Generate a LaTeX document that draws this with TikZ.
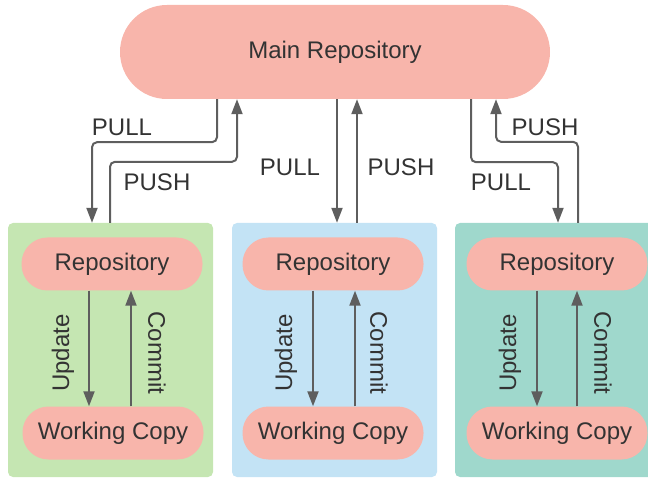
\documentclass[tikz,border=0pt]{standalone}
\usepackage{fontspec}
\setmainfont{Liberation Sans}
\usetikzlibrary{arrows.meta, positioning}
\definecolor{repopink}{HTML}{F8B5AB}
\definecolor{panelgreen}{HTML}{C5E6B2}
\definecolor{panelblue}{HTML}{C3E3F5}
\definecolor{panelteal}{HTML}{9FD8CC}
\definecolor{arrowgray}{HTML}{5E5E5E}
\definecolor{labelgray}{HTML}{333333}

\begin{document}
\begin{tikzpicture}[
    x=1pt, y=-1pt,
    every node/.style={font=\fontsize{24}{28}\selectfont, text=labelgray},
    mainrepo/.style={fill=repopink, rounded corners=47pt, minimum width=430pt, minimum height=94pt, inner sep=0pt},
    repo/.style={fill=repopink, rounded corners=26pt, minimum width=181pt, minimum height=53pt, inner sep=0pt},
    panel/.style={rounded corners=5pt, minimum width=205pt, minimum height=254pt, inner sep=0pt},
    flow/.style={draw=arrowgray, line width=2pt, rounded corners=5pt, -{Triangle[length=15pt, width=11pt]}}
]
\useasboundingbox (0,0) rectangle (648,478);

% main repository
\node[mainrepo] (main) at (335,52) {Main Repository};

% local panels
\node[panel, fill=panelgreen] (panelA) at (110.5,350) {};
\node[panel, fill=panelblue]  (panelB) at (334.5,350) {};
\node[panel, fill=panelteal]  (panelC) at (557.5,350) {};

% local repositories and working copies
\node[repo] (repoA) at (112,264) {Repository};
\node[repo] (workA) at (113,433) {Working Copy};
\node[repo] (repoB) at (333,264) {Repository};
\node[repo] (workB) at (333,433) {Working Copy};
\node[repo] (repoC) at (557,264) {Repository};
\node[repo] (workC) at (557,433) {Working Copy};

% update / commit inside each panel
\foreach \p/\u/\c in {A/89/131, B/313/355, C/537/577} {
    \draw[flow] (repo\p.south -| \u,0) -- (work\p.north -| \u,0);
    \draw[flow] (work\p.north -| \c,0) -- (repo\p.south -| \c,0);
}
\node[rotate=90]  (updA) at (63,353)  {Update};
\node[rotate=-90] (comA) at (157,353) {Commit};
\node[rotate=90]  (updB) at (286,353) {Update};
\node[rotate=-90] (comB) at (379,353) {Commit};
\node[rotate=90]  (updC) at (510,353) {Update};
\node[rotate=-90] (comC) at (603,353) {Commit};

% pull / push to the main repository
\draw[flow] ([xshift=-118pt]main.south) -- ++(0,43) -| ([xshift=-18.5pt]panelA.north);
\draw[flow] ([xshift=-0.5pt]panelA.north) -- ++(0,-61) -| ([xshift=-98pt]main.south);
\draw[flow] ([xshift=2pt]main.south) -- ([xshift=2.5pt]panelB.north);
\draw[flow] ([xshift=22.5pt]panelB.north) -- ([xshift=22pt]main.south);
\draw[flow] ([xshift=136pt]main.south) -- ++(0,63) -| ([xshift=0.5pt]panelC.north);
\draw[flow] ([xshift=20.5pt]panelC.north) -- ++(0,-81) -| ([xshift=161pt]main.south);

\node (pullA) at (122,127) {PULL};
\node (pushA) at (157,182) {PUSH};
\node (pullB) at (290,167) {PULL};
\node (pushB) at (401,167) {PUSH};
\node (pushC) at (545,127) {PUSH};
\node (pullC) at (501,182) {PULL};
\end{tikzpicture}
\end{document}
